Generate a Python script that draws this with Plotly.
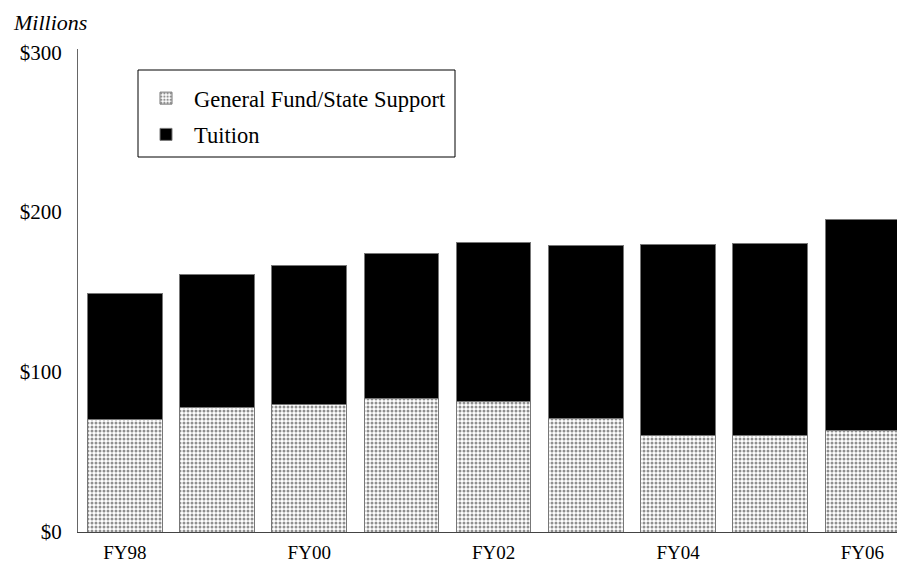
import plotly.graph_objects as go

years = ["FY98", "FY99", "FY00", "FY01", "FY02", "FY03", "FY04", "FY05", "FY06"]
general_fund = [70.2, 77.9, 79.6, 83.2, 81.9, 71.0, 60.2, 60.2, 63.5]
tuition = [79.0, 83.1, 87.0, 90.9, 98.9, 108.1, 119.5, 120.2, 132.1]
y_ticks = [0, 100, 200, 300]
y_tick_labels = ["$0", "$100", "$200", "$300"]
x_tick_labels = ["FY98", "FY00", "FY02", "FY04", "FY06"]

FONT = "Liberation Serif"

fig = go.Figure()
fig.add_trace(go.Bar(
    x=years, y=general_fund, name="General Fund/State Support", legendgroup="g1",
    marker=dict(color="white", line=dict(color="#777", width=1),
                pattern=dict(shape=".", fgcolor="#222", bgcolor="white", size=4, solidity=0.45)),
))
fig.add_trace(go.Bar(
    x=years, y=tuition, name="Tuition", legendgroup="g2",
    marker=dict(color="black", line=dict(color="#777", width=1)),
))

W, H = 897, 566
L, T, B = 78, 49, 34
PW, PH = W - L, H - T - B


def px(x):
    return (x - L) / PW


def py(y):
    return (T + PH - y) / PH


fig.update_layout(
    barmode="stack",
    bargap=0.19,
    width=W, height=H,
    margin=dict(l=L, r=0, t=T, b=B),
    plot_bgcolor="white", paper_bgcolor="white",
    font=dict(family=FONT, size=19, color="black"),
    showlegend=True,
    legend=dict(x=px(138), y=py(77), xanchor="left", yanchor="top",
                borderwidth=0, bgcolor="rgba(0,0,0,0)",
                font=dict(family=FONT, size=22.5), traceorder="grouped",
                tracegroupgap=4, itemwidth=46),
    shapes=[dict(type="rect", xref="paper", yref="paper",
                 x0=px(138), x1=px(455), y0=py(70), y1=py(157),
                 line=dict(color="black", width=1), fillcolor="white", layer="above")],
    annotations=[dict(text="<i>Millions</i>", x=px(11), y=py(22),
                      xref="paper", yref="paper", xanchor="left", yanchor="middle",
                      showarrow=False, font=dict(family=FONT, size=22))],
)

fig.update_xaxes(
    type="category", range=[-0.508, 8.375],
    tickmode="array", tickvals=x_tick_labels, ticktext=x_tick_labels,
    showline=True, linecolor="#444", linewidth=1,
    ticks="outside", ticklen=3, tickcolor="rgba(0,0,0,0)", showgrid=False,
    tickfont=dict(family=FONT, size=19),
)
fig.update_yaxes(
    range=[0, 302], tickvals=y_ticks, ticktext=y_tick_labels,
    showline=True, linecolor="#666", linewidth=1, ticks="outside", ticklen=11,
    tickcolor="rgba(0,0,0,0)", showgrid=False, zeroline=False,
    tickfont=dict(family=FONT, size=21),
)

post = (
    "document.body.style.margin='0';"
    "document.body.style.overflow='hidden';"
    "var gd=document.getElementById('{plot_id}');"
    "return Plotly.relayout(gd,{width:%d,height:%d});" % (W, H)
)

fig.write_html("out.html", post_script=post, config={"displayModeBar": False})
